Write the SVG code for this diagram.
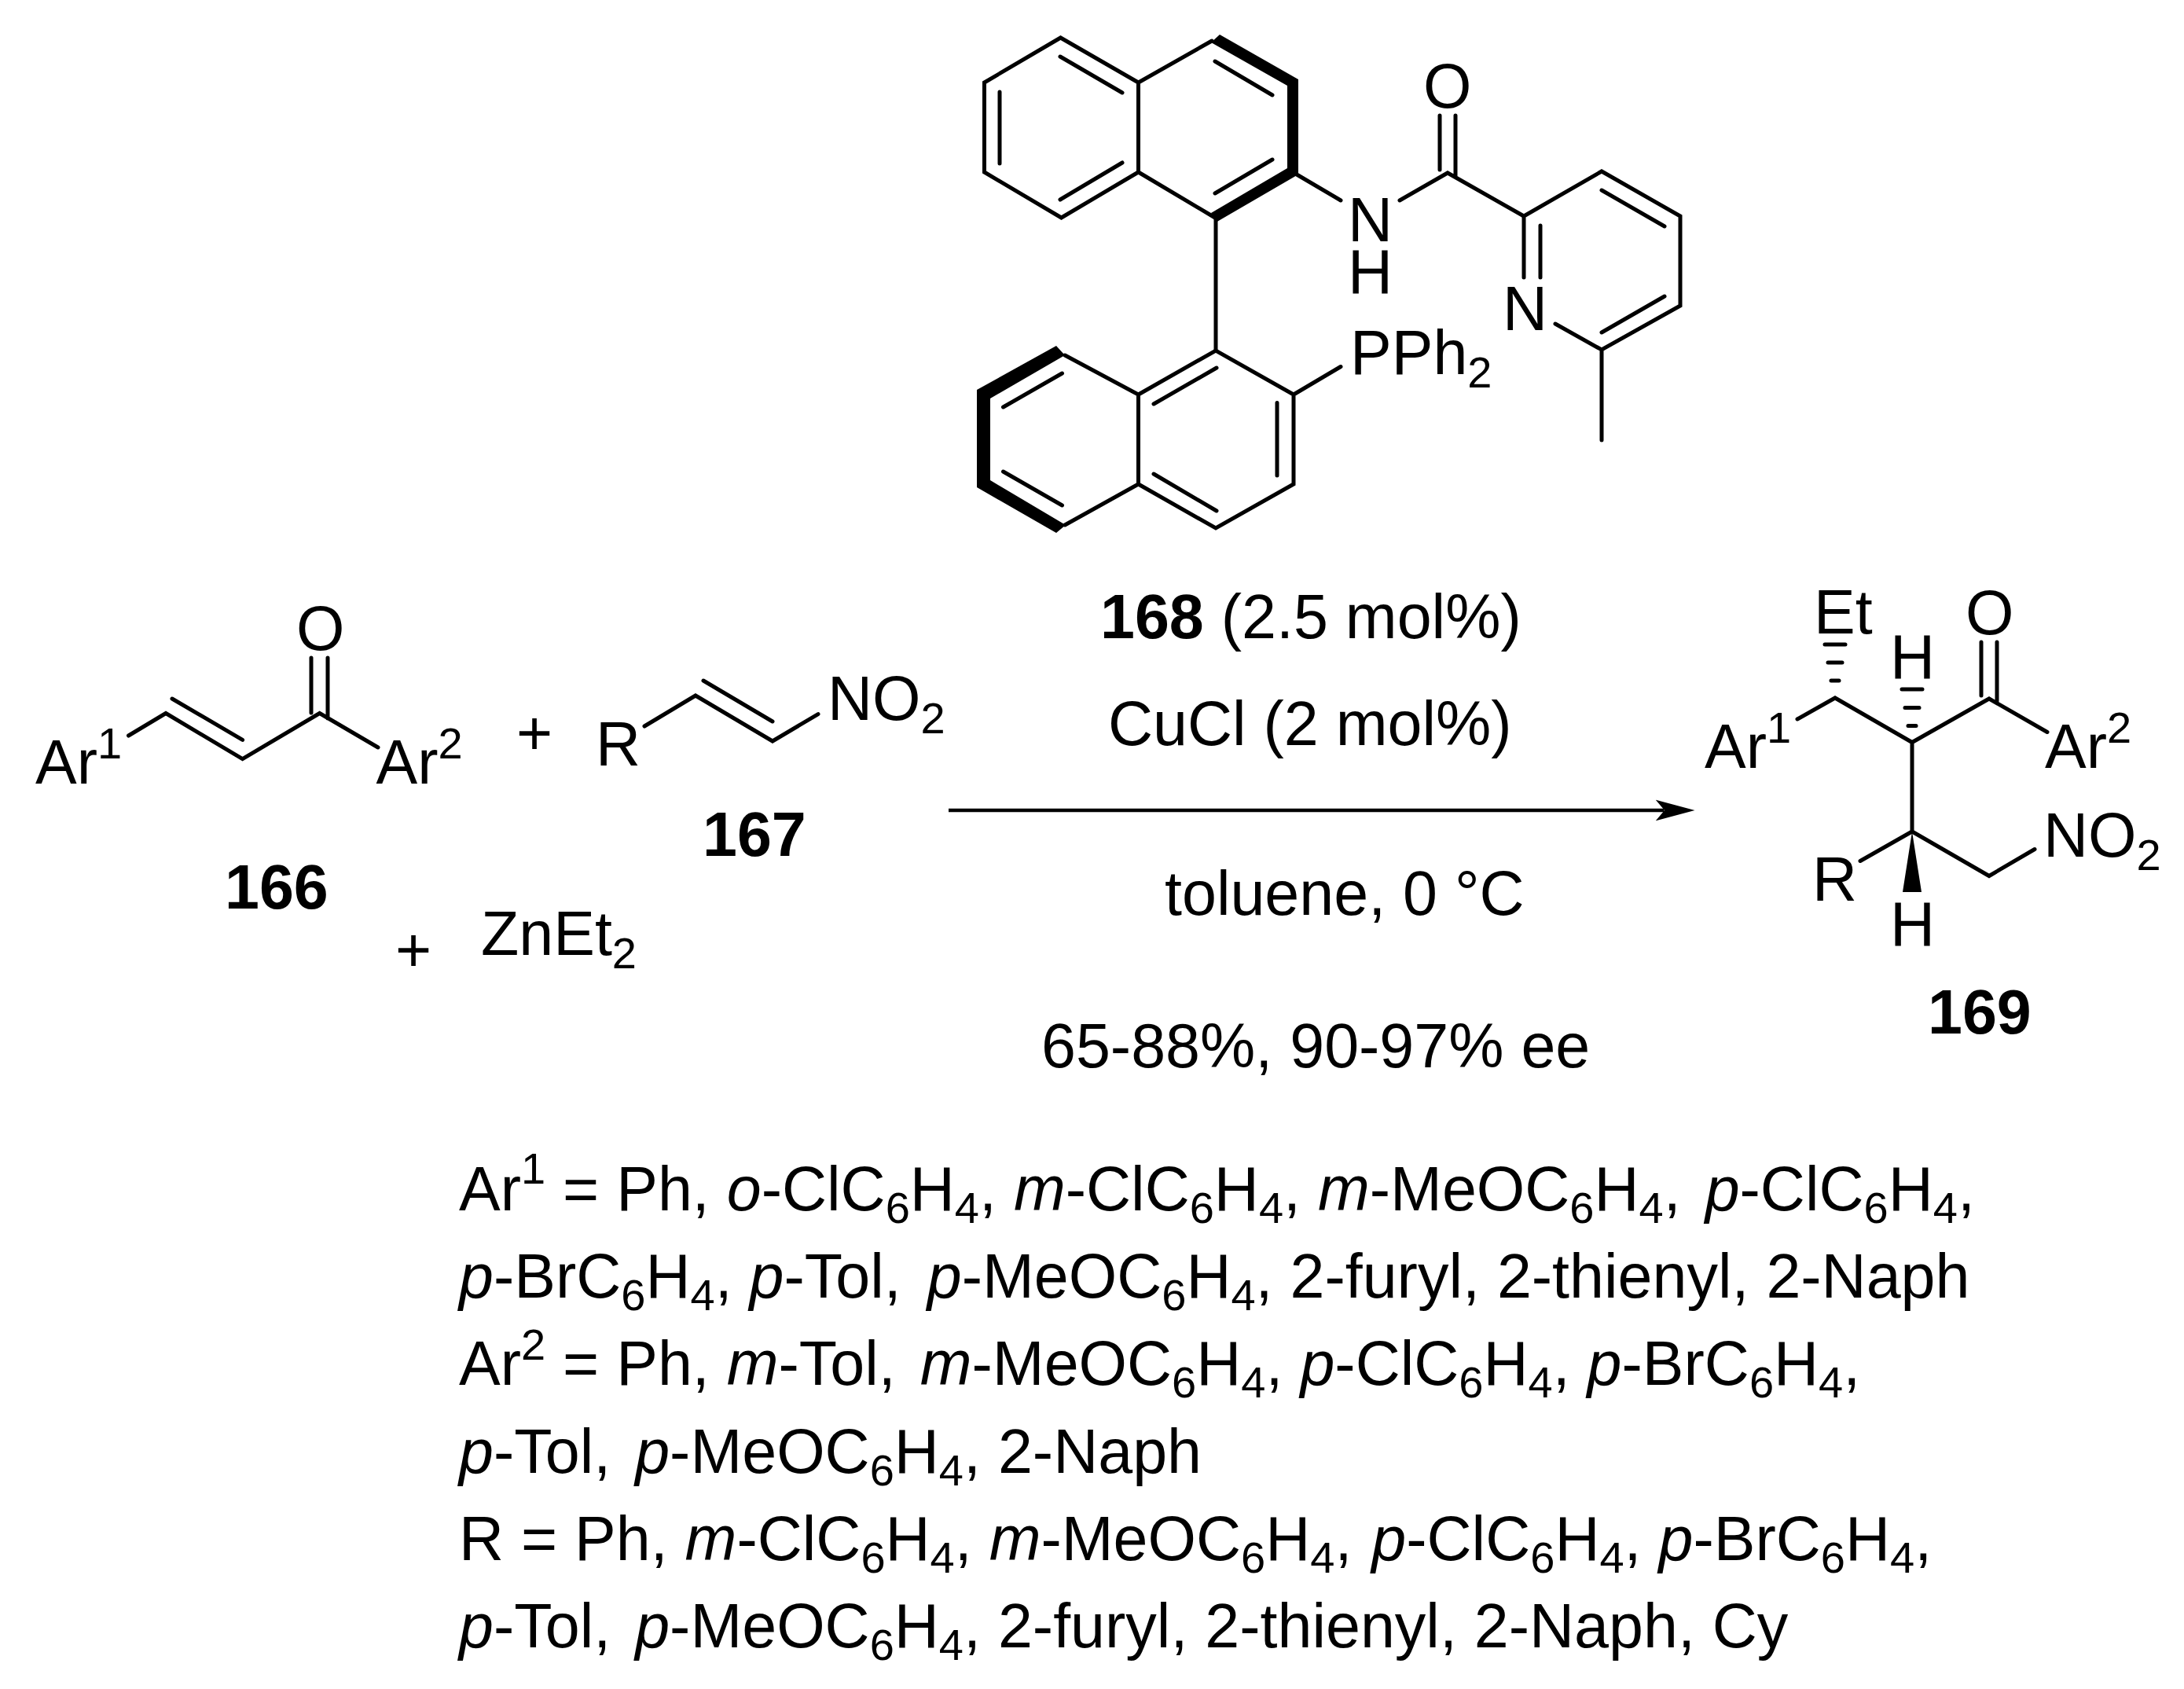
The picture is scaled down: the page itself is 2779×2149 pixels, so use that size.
<svg xmlns="http://www.w3.org/2000/svg" width="2779" height="2149" viewBox="0 0 2779 2149">
<style>
text{font-family:"Liberation Sans",Arial,sans-serif;font-size:79px;fill:#000}
.n{font-weight:bold}
.i{font-style:italic}
.s{font-size:56px}
.b{fill:none;stroke:#000;stroke-width:5;stroke-linecap:round;stroke-linejoin:miter}
.f{fill:#000;stroke:none}
</style>
<defs>
<marker id="head" markerUnits="userSpaceOnUse" viewBox="0 -15 52 30" markerWidth="52" markerHeight="30" refX="11" refY="0" orient="auto"><path d="M0,-13.5L50,0L0,13.5L11.5,0Z" fill="#000"/></marker>
</defs>
<rect width="2779" height="2149" fill="#fff"/>

<g id="compound-168">
<path class="b" d="M1448.5,105L1349.5,48L1252.5,105V219L1350.5,277L1448.5,219V105L1542,52M1448.5,219L1546,277"/>
<path class="b" d="M1349,72L1428,118M1272,117V208M1349,254L1428,207M1546,78L1619,121M1546,246L1619,203"/>
<path class="f" d="M1552,44L1652,101V222L1547,283L1541,271L1638,214V109L1541,54Z"/>
<path class="b" d="M1547,279V446"/>
<path class="b" d="M1650,222L1706,255M1781,255L1842,220L1939,275M1832,147V216M1852,147V225"/>
<path class="b" d="M1939,353V275L2038,218L2138,275V389L2038,445L1979,412M1960,287V353M2038,242L2118,288M2038,423L2118,377M2038,445V560"/>
<path class="b" d="M1355,452L1448.5,502V616L1355,668M1448.5,502L1547,446L1646,502V616L1547,672L1448.5,616M1646,502L1706,466.5"/>
<path class="b" d="M1276.5,518L1351.5,475M1276.5,600L1351.5,643M1468,514L1548,468M1468,603L1548,650M1625,512.5V605"/>
<path class="f" d="M1344,440L1355,452L1260,507V611L1356,668L1344,678L1243,620V496Z"/>
<text x="1715" y="307">N</text>
<text x="1715" y="373">H</text>
<text x="1811" y="137">O</text>
<text x="1912" y="420">N</text>
<text x="1718" y="476">PPh<tspan class="s" dy="17">2</tspan></text>
</g>

<g id="compound-166">
<path class="b" d="M163.5,936L211,907.5L308.6,965.7L406.7,907.5L481,951M219,889L308.6,941.4M396,837V907M417,837V914"/>
<text x="45" y="997">Ar<tspan class="s" dy="-32">1</tspan></text>
<text x="478.5" y="997">Ar<tspan class="s" dy="-32">2</tspan></text>
<text x="377" y="827">O</text>
<text class="n" x="286" y="1156">166</text>
</g>
<g id="plus-1"><text x="657" y="960">+</text></g>
<g id="compound-167">
<path class="b" d="M820,924L885,885L983,943L1041,908.6M895,866L983,918"/>
<text x="758" y="973.6">R</text>
<text x="1053" y="916.4">NO<tspan class="s" dy="17">2</tspan></text>
<text class="n" x="894" y="1088.6">167</text>
</g>
<g id="plus-2"><text x="503" y="1236">+</text></g>
<g id="zinc"><text x="612" y="1214.6">ZnEt<tspan class="s" dy="17">2</tspan></text></g>

<g id="conditions">
<text x="1400" y="812"><tspan class="n">168</tspan> (2.5 mol%)</text>
<text x="1410" y="948">CuCl (2 mol%)</text>
<text x="1482" y="1164">toluene, 0 °C</text>
<text x="1325" y="1358">65-88%, 90-97% ee</text>
</g>

<g id="connectors">
<line x1="1207" y1="1031" x2="2117.5" y2="1031" stroke="#000" stroke-width="4.5" marker-end="url(#head)"/>
</g>

<g id="compound-169">
<path class="b" d="M2287,915L2335,888L2433,944.5L2531,889L2605,931.5M2433,944.5V1058M2367,1095.5L2433,1058L2531,1114.5L2589,1080.5M2521,817V885M2541,817V892"/>
<path class="b" stroke-linecap="butt" d="M2322,820H2348M2326,843H2344M2330,866H2340M2420,877H2446M2424,900.6H2442M2428,923.5H2438"/>
<path class="f" d="M2433,1058L2421,1135H2445Z"/>
<text x="2169" y="977">Ar<tspan class="s" dy="-32">1</tspan></text>
<text x="2602" y="977">Ar<tspan class="s" dy="-32">2</tspan></text>
<text x="2308" y="806">Et</text>
<text x="2405" y="863">H</text>
<text x="2501" y="807">O</text>
<text x="2306" y="1146">R</text>
<text x="2405" y="1203">H</text>
<text x="2600" y="1089.6">NO<tspan class="s" dy="17">2</tspan></text>
<text class="n" x="2453" y="1315">169</text>
</g>

<g id="substituents">
<text x="584" y="1540">Ar<tspan class="s" dy="-34">1</tspan><tspan dy="34"> = Ph, </tspan><tspan class="i">o</tspan>-ClC<tspan class="s" dy="16">6</tspan><tspan dy="-16">H</tspan><tspan class="s" dy="16">4</tspan><tspan dy="-16">, </tspan><tspan class="i">m</tspan>-ClC<tspan class="s" dy="16">6</tspan><tspan dy="-16">H</tspan><tspan class="s" dy="16">4</tspan><tspan dy="-16">, </tspan><tspan class="i">m</tspan>-MeOC<tspan class="s" dy="16">6</tspan><tspan dy="-16">H</tspan><tspan class="s" dy="16">4</tspan><tspan dy="-16">, </tspan><tspan class="i" dx="9">p</tspan>-ClC<tspan class="s" dy="16">6</tspan><tspan dy="-16">H</tspan><tspan class="s" dy="16">4</tspan><tspan dy="-16">,</tspan></text>
<text x="584" y="1651"><tspan class="i">p</tspan>-BrC<tspan class="s" dy="16">6</tspan><tspan dy="-16">H</tspan><tspan class="s" dy="16">4</tspan><tspan dy="-16">, </tspan><tspan class="i">p</tspan>-Tol, <tspan class="i" dx="11">p</tspan>-MeOC<tspan class="s" dy="16">6</tspan><tspan dy="-16">H</tspan><tspan class="s" dy="16">4</tspan><tspan dy="-16">, 2-furyl, 2-thienyl, 2-Naph</tspan></text>
<text x="584" y="1762">Ar<tspan class="s" dy="-32">2</tspan><tspan dy="32"> = Ph, </tspan><tspan class="i">m</tspan>-Tol, <tspan class="i" dx="9">m</tspan>-MeOC<tspan class="s" dy="16">6</tspan><tspan dy="-16">H</tspan><tspan class="s" dy="16">4</tspan><tspan dy="-16">, </tspan><tspan class="i">p</tspan>-ClC<tspan class="s" dy="16">6</tspan><tspan dy="-16">H</tspan><tspan class="s" dy="16">4</tspan><tspan dy="-16">, </tspan><tspan class="i">p</tspan>-BrC<tspan class="s" dy="16">6</tspan><tspan dy="-16">H</tspan><tspan class="s" dy="16">4</tspan><tspan dy="-16">,</tspan></text>
<text x="584" y="1874"><tspan class="i">p</tspan>-Tol, <tspan class="i" dx="9">p</tspan>-MeOC<tspan class="s" dy="16">6</tspan><tspan dy="-16">H</tspan><tspan class="s" dy="16">4</tspan><tspan dy="-16">, 2-Naph</tspan></text>
<text x="584" y="1985">R = Ph, <tspan class="i">m</tspan>-ClC<tspan class="s" dy="16">6</tspan><tspan dy="-16">H</tspan><tspan class="s" dy="16">4</tspan><tspan dy="-16">, </tspan><tspan class="i">m</tspan>-MeOC<tspan class="s" dy="16">6</tspan><tspan dy="-16">H</tspan><tspan class="s" dy="16">4</tspan><tspan dy="-16">, </tspan><tspan class="i" dx="3">p</tspan>-ClC<tspan class="s" dy="16">6</tspan><tspan dy="-16">H</tspan><tspan class="s" dy="16">4</tspan><tspan dy="-16">, </tspan><tspan class="i">p</tspan>-BrC<tspan class="s" dy="16">6</tspan><tspan dy="-16">H</tspan><tspan class="s" dy="16">4</tspan><tspan dy="-16">,</tspan></text>
<text x="584" y="2096"><tspan class="i">p</tspan>-Tol, <tspan class="i" dx="9">p</tspan>-MeOC<tspan class="s" dy="16">6</tspan><tspan dy="-16">H</tspan><tspan class="s" dy="16">4</tspan><tspan dy="-16">, 2-furyl, 2-thienyl, 2-Naph, Cy</tspan></text>
</g>
</svg>
